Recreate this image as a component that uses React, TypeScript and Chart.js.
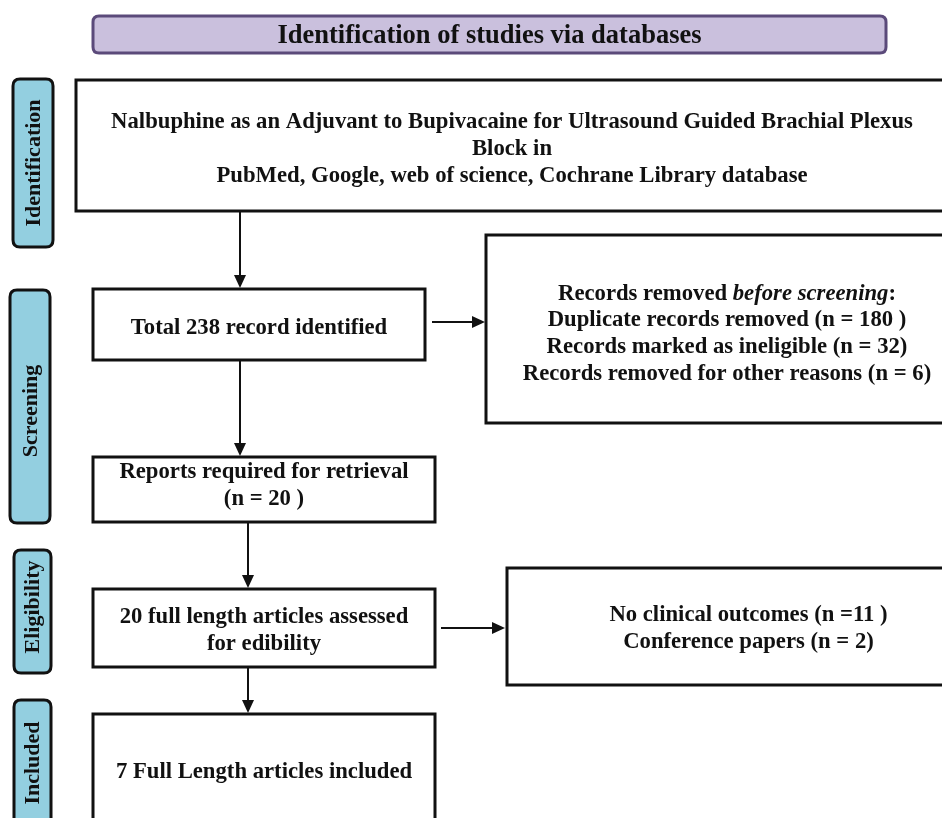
import React, { useEffect, useRef } from "react";
import { Chart, registerables } from "chart.js";

Chart.register(...registerables);

// ---------- data ----------
const titleText = "Identification of studies via databases";
const stageLabels = ["Identification", "Screening", "Eligibility", "Included"];

const topic = "Nalbuphine as an Adjuvant to Bupivacaine for Ultrasound Guided Brachial Plexus";
const topicLine2 = "Block in";
const databases = "PubMed, Google, web of science, Cochrane Library database";

const totalRecords = 238;
const duplicatesRemoved = 180;
const markedIneligible = 32;
const otherReasons = 6;
const reportsRetrieval = 20;
const fullTextAssessed = 20;
const noClinicalOutcomes = 11;
const conferencePapers = 2;
const studiesIncluded = 7;

type Seg = [string, boolean?];
const boxLines: Seg[][][] = [
  [[[topic]], [[topicLine2]], [[databases]]],
  [[[`Total ${totalRecords} record identified`]]],
  [
    [["Records removed "], ["before screening", true], [":"]],
    [[`Duplicate records removed (n = ${duplicatesRemoved} )`]],
    [[`Records marked as ineligible (n = ${markedIneligible})`]],
    [[`Records removed for other reasons (n = ${otherReasons})`]],
  ],
  [[["Reports required for retrieval"]], [[`(n = ${reportsRetrieval} )`]]],
  [[[`${fullTextAssessed} full length articles assessed`]], [["for edibility"]]],
  [[[`No clinical outcomes (n =${noClinicalOutcomes} )`]], [[`Conference papers (n = ${conferencePapers})`]]],
  [[[`${studiesIncluded} Full Length articles included`]]],
];

// ---------- layout (chart units == pixels) ----------
const titleBox = { x1: 93, y1: 16, x2: 886, y2: 53 };
const stageBoxes = [
  { x1: 13, y1: 79, x2: 53, y2: 247, ty: 163 },
  { x1: 10, y1: 290, x2: 50, y2: 523, ty: 411 },
  { x1: 14, y1: 550, x2: 51, y2: 673, ty: 607 },
  { x1: 14, y1: 700, x2: 51, y2: 840, ty: 763 },
];
const flowBoxes = [
  { x1: 76, y1: 80, x2: 948, y2: 211, ty: 149 },
  { x1: 93, y1: 289, x2: 425, y2: 360, ty: 328 },
  { x1: 486, y1: 235, x2: 968, y2: 423, ty: 334 },
  { x1: 93, y1: 457, x2: 435, y2: 522, ty: 486 },
  { x1: 93, y1: 589, x2: 435, y2: 667, ty: 631 },
  { x1: 507, y1: 568, x2: 990, y2: 685, ty: 629 },
  { x1: 93, y1: 714, x2: 435, y2: 860, ty: 772 },
];
const arrows = [
  { x1: 240, y1: 212, x2: 240, y2: 288 },
  { x1: 432, y1: 322, x2: 485, y2: 322 },
  { x1: 240, y1: 361, x2: 240, y2: 456 },
  { x1: 248, y1: 523, x2: 248, y2: 588 },
  { x1: 441, y1: 628, x2: 505, y2: 628 },
  { x1: 248, y1: 668, x2: 248, y2: 713 },
];

const FONT = '"Liberation Serif", "Times New Roman", serif';

function roundRect(ctx: CanvasRenderingContext2D, x: number, y: number, w: number, h: number, r: number) {
  ctx.beginPath();
  ctx.moveTo(x + r, y);
  ctx.lineTo(x + w - r, y);
  ctx.quadraticCurveTo(x + w, y, x + w, y + r);
  ctx.lineTo(x + w, y + h - r);
  ctx.quadraticCurveTo(x + w, y + h, x + w - r, y + h);
  ctx.lineTo(x + r, y + h);
  ctx.quadraticCurveTo(x, y + h, x, y + h - r);
  ctx.lineTo(x, y + r);
  ctx.quadraticCurveTo(x, y, x + r, y);
  ctx.closePath();
}

const flowPlugin = {
  id: "flow",
  afterDraw(chart: any) {
    const ctx: CanvasRenderingContext2D = chart.ctx;
    const sx = chart.scales.x;
    const sy = chart.scales.y;
    const px = (v: number) => sx.getPixelForValue(v);
    const py = (v: number) => sy.getPixelForValue(v);
    ctx.save();

    // title
    roundRect(ctx, px(titleBox.x1), py(titleBox.y1), px(titleBox.x2) - px(titleBox.x1), py(titleBox.y2) - py(titleBox.y1), 6);
    ctx.fillStyle = "#cac0dd";
    ctx.fill();
    ctx.lineWidth = 3;
    ctx.strokeStyle = "#5b4a7a";
    ctx.stroke();
    ctx.fillStyle = "#111";
    ctx.font = `bold 26.5px ${FONT}`;
    ctx.textAlign = "center";
    ctx.textBaseline = "middle";
    ctx.fillText(titleText, px((titleBox.x1 + titleBox.x2) / 2), py((titleBox.y1 + titleBox.y2) / 2) + 2);

    // stage labels
    stageBoxes.forEach((b, i) => {
      const x = px(b.x1), y = py(b.y1), w = px(b.x2) - x, h = py(b.y2) - y;
      roundRect(ctx, x, y, w, h, 7);
      ctx.fillStyle = "#93cfe0";
      ctx.fill();
      ctx.lineWidth = 3;
      ctx.strokeStyle = "#111";
      ctx.stroke();
      ctx.save();
      ctx.translate(x + w / 2, py(b.ty));
      ctx.rotate(-Math.PI / 2);
      ctx.fillStyle = "#111";
      ctx.font = `bold 22px ${FONT}`;
      ctx.textAlign = "center";
      ctx.textBaseline = "middle";
      ctx.fillText(stageLabels[i], 0, 1);
      ctx.restore();
    });

    // flow boxes
    const lineH = 26.8;
    flowBoxes.forEach((b, i) => {
      const x = px(b.x1), y = py(b.y1), w = px(b.x2) - x, h = py(b.y2) - y;
      ctx.lineWidth = 3;
      ctx.strokeStyle = "#111";
      ctx.fillStyle = "#fff";
      ctx.fillRect(x, y, w, h);
      ctx.strokeRect(x, y, w, h);
      const lines = boxLines[i];
      const cx = x + w / 2;
      const startY = py(b.ty) - ((lines.length - 1) * lineH) / 2;
      lines.forEach((segs, li) => {
        const fontOf = (it?: boolean) => `${it ? "italic " : ""}bold 22.7px ${FONT}`;
        let total = 0;
        segs.forEach(([t, it]) => {
          ctx.font = fontOf(it);
          total += ctx.measureText(t).width;
        });
        let cur = cx - total / 2;
        ctx.textAlign = "left";
        ctx.textBaseline = "middle";
        ctx.fillStyle = "#111";
        segs.forEach(([t, it]) => {
          ctx.font = fontOf(it);
          ctx.fillText(t, cur, startY + li * lineH);
          cur += ctx.measureText(t).width;
        });
      });
    });

    // arrows
    arrows.forEach((a) => {
      const x1 = px(a.x1), y1 = py(a.y1), x2 = px(a.x2), y2 = py(a.y2);
      const ang = Math.atan2(y2 - y1, x2 - x1);
      const head = 13, half = 6;
      ctx.strokeStyle = "#111";
      ctx.fillStyle = "#111";
      ctx.lineWidth = 2;
      ctx.beginPath();
      ctx.moveTo(x1, y1);
      ctx.lineTo(x2 - head * Math.cos(ang), y2 - head * Math.sin(ang));
      ctx.stroke();
      ctx.beginPath();
      ctx.moveTo(x2, y2);
      ctx.lineTo(x2 - head * Math.cos(ang) + half * Math.sin(ang), y2 - head * Math.sin(ang) - half * Math.cos(ang));
      ctx.lineTo(x2 - head * Math.cos(ang) - half * Math.sin(ang), y2 - head * Math.sin(ang) + half * Math.cos(ang));
      ctx.closePath();
      ctx.fill();
    });

    ctx.restore();
  },
};

export default function App() {
  const ref = useRef<HTMLCanvasElement | null>(null);
  useEffect(() => {
    document.body.style.margin = "0";
    document.body.style.background = "#fff";
    if (!ref.current) return;
    const chart = new Chart(ref.current, {
      type: "scatter",
      data: { datasets: [{ data: [], pointRadius: 0 }] },
      options: {
        animation: false,
        responsive: false,
        layout: { padding: 0 },
        plugins: { legend: { display: false }, tooltip: { enabled: false } },
        scales: {
          x: { type: "linear", min: 0, max: 942, display: false },
          y: { type: "linear", min: 0, max: 818, reverse: true, display: false },
        },
      },
      plugins: [flowPlugin],
    });
    return () => chart.destroy();
  }, []);
  return (
    <div style={{ width: 942, height: 818, background: "#fff" }}>
      <canvas ref={ref} width={942} height={818} style={{ display: "block" }} />
    </div>
  );
}
